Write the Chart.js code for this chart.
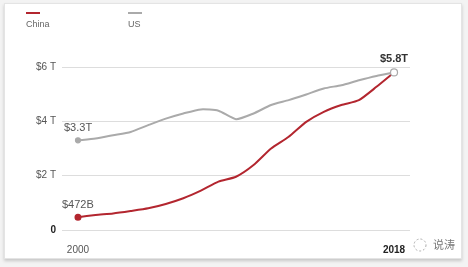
<!DOCTYPE html>
<html>
<head>
<meta charset="utf-8">
<script src="https://cdn.jsdelivr.net/npm/chart.js@4/dist/chart.umd.min.js"></script>
<style>
  html, body { margin: 0; padding: 0; background: #f3f3f3; }
  #card { position: absolute; left: 4px; top: 3px; width: 456px; height: 254px;
          background: #fff; border: 1px solid #e4e4e4; box-shadow: 0 2px 3px rgba(0,0,0,0.18); }
  #wrap { position: absolute; left: 0; top: 0; width: 468px; height: 267px; }
</style>
</head>
<body>
<div id="card"></div>
<div id="wrap"><canvas id="myChart" width="468" height="267"></canvas></div>
<script>
// years along the x axis
var years = [2000,2001,2002,2003,2004,2005,2006,2007,2008,2009,2010,2011,2012,2013,2014,2015,2016,2017,2018];
// retail values in trillions of dollars
var china = [0.472,0.55,0.61,0.70,0.80,0.96,1.17,1.45,1.78,1.96,2.39,3.0,3.43,3.98,4.35,4.6,4.78,5.27,5.8];
var us = [3.3,3.37,3.49,3.61,3.86,4.1,4.29,4.44,4.39,4.08,4.29,4.6,4.78,4.99,5.21,5.33,5.51,5.67,5.8];
var yTicks = [0,2,4,6];
var xTicks = [2000,2018];

var red = "#b3262f";
var grey = "#aaaaaa";
var font = "'Liberation Sans', Arial, sans-serif";

function tv(c) { return c && c.tick ? c.tick.value : null; }

var extras = {
  id: "extras",
  afterDatasetsDraw: function (chart) {
    var c = chart.ctx;
    var x = chart.scales.x, y = chart.scales.y;
    var last = years.length - 1;
    c.save();
    c.textBaseline = "middle";
    // legend
    c.fillStyle = red; c.fillRect(26, 12, 14, 2);
    c.fillStyle = grey; c.fillRect(128, 12, 14, 2);
    c.fillStyle = "#666"; c.font = "9px " + font; c.textAlign = "left";
    c.fillText("China", 26, 25);
    c.fillText("US", 128, 25);
    // value labels
    c.font = "11px " + font; c.fillStyle = "#555";
    c.fillText("$3.3T", x.getPixelForValue(years[0]) - 14, y.getPixelForValue(us[0]) - 12);
    c.fillText("$472B", x.getPixelForValue(years[0]) - 16, y.getPixelForValue(china[0]) - 12);
    c.font = "bold 11px " + font; c.fillStyle = "#333"; c.textAlign = "center";
    c.fillText("$5.8T", x.getPixelForValue(years[last]), y.getPixelForValue(china[last]) - 13);
    // watermark
    c.strokeStyle = "#aaa"; c.lineWidth = 1;
    c.setLineDash([2, 2]);
    c.beginPath(); c.arc(420, 245, 6, 0, Math.PI * 2); c.stroke();
    c.setLineDash([]);
    c.font = "11px 'Noto Sans CJK SC', sans-serif"; c.fillStyle = "#777"; c.textAlign = "left";
    c.fillText("说涛", 433, 245);
    c.restore();
  }
};

function pts(v) { return v.map(function (d, i) { return { x: years[i], y: d }; }); }

var ctx = document.getElementById("myChart");
var myChart = new Chart(ctx, {
  type: "line",
  data: {
    datasets: [
      {
        label: "US",
        data: pts(us),
        borderColor: grey,
        borderWidth: 2,
        tension: 0.2,
        pointRadius: function (c) { return c.dataIndex === 0 ? 2.5 : (c.dataIndex === years.length - 1 ? 3.5 : 0); },
        pointBackgroundColor: function (c) { return c.dataIndex === 0 ? grey : "#fff"; },
        pointBorderColor: grey,
        pointBorderWidth: 1.2
      },
      {
        label: "China",
        data: pts(china),
        borderColor: red,
        borderWidth: 2,
        tension: 0.2,
        pointRadius: function (c) { return c.dataIndex === 0 ? 2.5 : 0; },
        pointBackgroundColor: red,
        pointBorderColor: red
      }
    ]
  },
  options: {
    responsive: false,
    animation: false,
    layout: { padding: { left: 0, top: 67, right: 58, bottom: 0 } },
    plugins: { legend: { display: false }, tooltip: { enabled: false } },
    scales: {
      x: {
        type: "linear",
        min: 1999.09, max: 2018.91,
        grid: { display: false },
        border: { display: false },
        afterBuildTicks: function (s) { s.ticks = xTicks.map(function (v) { return { value: v }; }); },
        afterFit: function (s) { s.height = 37; },
        ticks: {
          padding: 6,
          maxRotation: 0,
          color: function (c) { return tv(c) === 2018 ? "#222" : "#555"; },
          font: function (c) { return { family: font, size: 10, weight: tv(c) === 2018 ? "bold" : "normal" }; },
          callback: function (v) { return String(v); }
        }
      },
      y: {
        min: 0, max: 6,
        afterBuildTicks: function (s) { s.ticks = yTicks.map(function (v) { return { value: v }; }); },
        afterFit: function (s) { s.width = 62; },
        grid: { color: "#dddddd", drawTicks: false, lineWidth: 1 },
        border: { display: false },
        ticks: {
          padding: 6,
          color: function (c) { return tv(c) === 0 ? "#222" : "#555"; },
          font: function (c) { return { family: font, size: 10, weight: tv(c) === 0 ? "bold" : "normal" }; },
          callback: function (v) { return v === 0 ? "0" : "$" + v + " T"; }
        }
      }
    }
  },
  plugins: [extras]
});
</script>
</body>
</html>
